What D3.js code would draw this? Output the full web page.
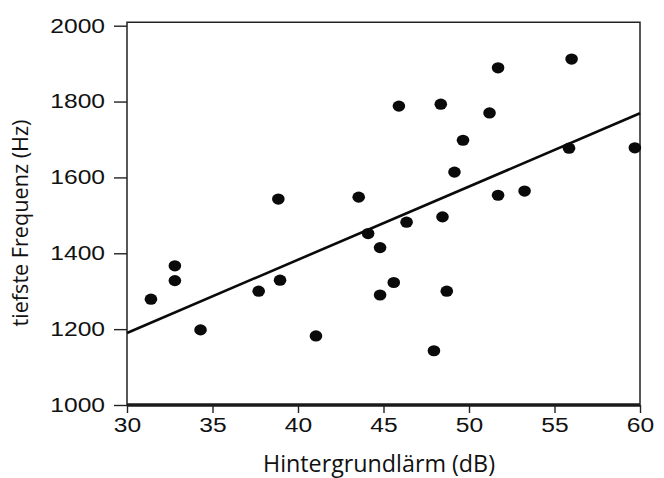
<!DOCTYPE html>
<html>
<head>
<meta charset="utf-8">
<style>
  body { margin: 0; background: #fff; }
  svg { display: block; }
  .tick text { transform-box: fill-box; }
  .x.axis .tick text { transform-origin: center; transform: scaleX(1.23); }
  .y.axis .tick text { transform-origin: right center; transform: scaleX(1.23); }
</style>
</head>
<body>
  <div id="chart"></div>
  <script src="https://d3js.org/d3.v7.min.js"></script>
  <script>
    // background noise (dB) and lowest frequency (Hz)
    var noise = [31.4, 32.8, 32.8, 34.3, 37.7, 38.85, 38.95, 41.05, 43.55, 44.1,
      44.8, 44.8, 45.6, 45.9, 46.35, 47.95, 48.35, 48.45, 48.7, 49.15,
      49.65, 51.2, 51.7, 51.7, 53.25, 55.85, 56.0, 59.7];
    var freq = [1279, 1367, 1328, 1198, 1300, 1543, 1329, 1182, 1548, 1452,
      1415, 1290, 1323, 1788, 1482, 1143, 1793, 1496, 1300, 1614,
      1698, 1770, 1889, 1553, 1564, 1677, 1912, 1678];

    // regression line end points
    var trendX = [30, 60];
    var trendY = [1190, 1769];

    var xTicks = [30, 35, 40, 45, 50, 55, 60];
    var yTicks = [1000, 1200, 1400, 1600, 1800, 2000];

    var width = 664,
      height = 478;

    var x = d3.scaleLinear()
      .domain([30, 60])
      .range([127, 640]);

    var y = d3.scaleLinear()
      .domain([1000, 2000])
      .range([405, 25.7]);

    var svg = d3.select("#chart")
      .append("svg")
      .attr("width", width)
      .attr("height", height);

    //***** axes *****
    svg.append("g")
      .attr("class", "x axis")
      .attr("transform", "translate(0," + y(1000) + ")")
      .call(d3.axisBottom(x)
        .tickValues(xTicks)
        .tickFormat(d3.format("d"))
        .tickSize(8)
        .tickSizeOuter(0)
        .tickPadding(5))
      .call(function(g) { g.select(".domain").remove(); })
      .call(function(g) {
        g.selectAll(".tick line").attr("stroke", "#222").attr("stroke-width", 1.4);
        g.selectAll(".tick text")
          .style("font", "20px 'Liberation Sans', Arial, sans-serif")
          .attr("fill", "#111");
      });

    svg.append("g")
      .attr("class", "y axis")
      .attr("transform", "translate(" + x(30) + ",0)")
      .call(d3.axisLeft(y)
        .tickValues(yTicks)
        .tickFormat(d3.format("d"))
        .tickSize(13)
        .tickSizeOuter(0)
        .tickPadding(9))
      .call(function(g) { g.select(".domain").remove(); })
      .call(function(g) {
        g.selectAll(".tick line").attr("stroke", "#222").attr("stroke-width", 1.4);
        g.selectAll(".tick text")
          .style("font", "20px 'Liberation Sans', Arial, sans-serif")
          .attr("fill", "#111");
      });

    // frame (top edge sits a little above the 2000 tick)
    var frameTop = y(2000) - 3.5;
    svg.append("path")
      .attr("d", "M" + x(30) + "," + y(1000) + "V" + frameTop + "H" + x(60) + "V" + y(1000))
      .attr("fill", "none")
      .attr("stroke", "#222")
      .attr("stroke-width", 1.5);
    svg.append("line")
      .attr("x1", x(30))
      .attr("x2", x(60))
      .attr("y1", y(1000))
      .attr("y2", y(1000))
      .attr("stroke", "#1a1a1a")
      .attr("stroke-width", 3.5);

    //***** trend line *****
    svg.append("line")
      .attr("x1", x(trendX[0]))
      .attr("y1", y(trendY[0]))
      .attr("x2", x(trendX[1]))
      .attr("y2", y(trendY[1]))
      .attr("stroke", "#0a0a0a")
      .attr("stroke-width", 2.6);

    //***** points *****
    svg.append("g")
      .selectAll("ellipse")
      .data(noise)
      .enter()
      .append("ellipse")
      .attr("cx", function(d) { return x(d); })
      .attr("cy", function(d, i) { return y(freq[i]); })
      .attr("rx", 6.3)
      .attr("ry", 5.6)
      .attr("fill", "#0a0a0a");

    //***** axis titles *****
    svg.append("text")
      .attr("x", 379)
      .attr("y", 472)
      .attr("text-anchor", "middle")
      .attr("textLength", 232)
      .attr("lengthAdjust", "spacingAndGlyphs")
      .style("font", "24px 'Open Sans', sans-serif")
      .attr("fill", "#111")
      .text("Hintergrundlärm (dB)");

    svg.append("text")
      .attr("transform", "translate(28,223) rotate(-90)")
      .attr("text-anchor", "middle")
      .attr("textLength", 207)
      .attr("lengthAdjust", "spacingAndGlyphs")
      .style("font", "21px 'Open Sans', sans-serif")
      .attr("fill", "#111")
      .text("tiefste Frequenz (Hz)");
  </script>
</body>
</html>
